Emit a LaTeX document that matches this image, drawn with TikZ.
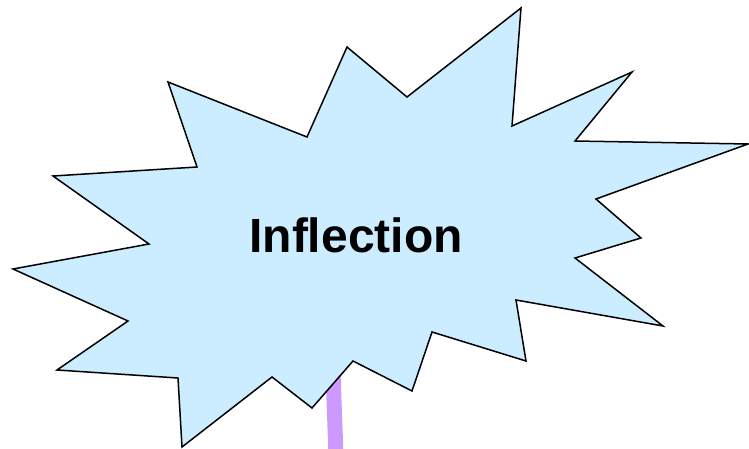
\documentclass[tikz,border=0pt]{standalone}
\usepackage{fontspec}
\setmainfont{Liberation Sans}
\definecolor{burstfill}{HTML}{CCECFF}
\definecolor{stickcol}{HTML}{CC99FF}
\begin{document}
\begin{tikzpicture}[x=1pt,y=-1pt,
  burst/.style={draw=black,fill=burstfill,line width=1.5pt,line join=miter},
  stick/.style={draw=stickcol,line width=15pt},
  label/.style={font=\bfseries\fontsize{48}{48}\selectfont,text=black,inner sep=0pt,anchor=base}]
\useasboundingbox (0,0) rectangle (749,449);
\coordinate (s1) at (331.5,330);
\coordinate (s2) at (336.5,470);
\draw[stick] (s1) -- (s2);
\path[burst] (53,176) -- (197,167) -- (168,82) -- (307,137) -- (347,47) -- (407,97)
  -- (521,8) -- (512,126) -- (632,72) -- (575,141) -- (748,144) -- (596,199)
  -- (641,238) -- (575,258) -- (663,326) -- (516,300) -- (526,361) -- (432,332)
  -- (412,391) -- (353,361) -- (312,408) -- (272,377) -- (182,447) -- (178,378)
  -- (57,370) -- (128,321) -- (13,269) -- (149,244) -- cycle;
\node[label] (t) at (356,252) {Inflection};
\end{tikzpicture}
\end{document}
